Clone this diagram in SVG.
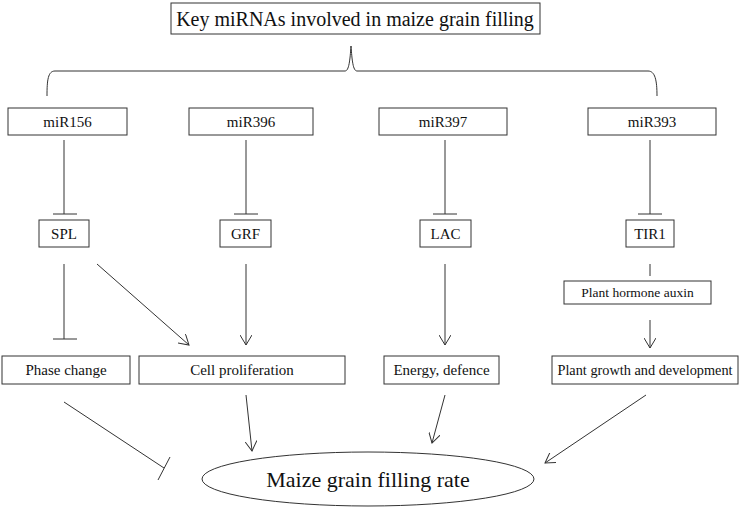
<svg xmlns="http://www.w3.org/2000/svg" width="742" height="510" viewBox="0 0 742 510">
<style>
.box{fill:#fff;stroke:#333;stroke-width:1}
.t{font-family:"Liberation Serif",serif;fill:#111;text-anchor:middle}
.c{stroke:#333;stroke-width:1;fill:none}
</style>
<defs>
<marker id="arr" markerWidth="12" markerHeight="12" refX="10" refY="6" orient="auto" markerUnits="userSpaceOnUse">
<path d="M0,0 L10,6 L0,12" fill="none" stroke="#333" stroke-width="1"/>
</marker>
</defs>
<rect width="742" height="510" fill="#fff"/>
<g id="title"><rect class="box" x="171" y="3" width="369" height="31"/><text class="t" x="355" y="26" font-size="20">Key miRNAs involved in maize grain filling</text></g>
<g id="brace"><path class="c" d="M47,96 C47,80 48,71 55,71 L345,71 C349,71 350,60 351,46 C352,60 353,71 357,71 L648,71 C655,71 657,80 657,96" stroke="#555" stroke-width="1.5"/></g>
<g id="miR156"><rect class="box" x="8" y="108" width="119" height="27"/><text class="t" x="67.5" y="127" font-size="15">miR156</text></g>
<g id="miR396"><rect class="box" x="189" y="108" width="124" height="27"/><text class="t" x="251" y="127" font-size="15">miR396</text></g>
<g id="miR397"><rect class="box" x="379" y="108" width="128" height="27"/><text class="t" x="443" y="127" font-size="15">miR397</text></g>
<g id="miR393"><rect class="box" x="588" y="108" width="128" height="27"/><text class="t" x="652" y="127" font-size="15">miR393</text></g>
<g id="SPL"><rect class="box" x="39" y="220" width="50" height="27"/><text class="t" x="64" y="239" font-size="15">SPL</text></g>
<g id="GRF"><rect class="box" x="220" y="220" width="51" height="27"/><text class="t" x="245.5" y="239" font-size="15">GRF</text></g>
<g id="LAC"><rect class="box" x="420" y="220" width="51" height="27"/><text class="t" x="445.5" y="239" font-size="15">LAC</text></g>
<g id="TIR1"><rect class="box" x="626" y="220" width="48" height="27"/><text class="t" x="650" y="239" font-size="15">TIR1</text></g>
<g id="auxin"><rect class="box" x="564" y="281" width="147" height="23"/><text class="t" x="637.5" y="297" font-size="13.5">Plant hormone auxin</text></g>
<g id="phase"><rect class="box" x="2" y="356" width="128" height="28"/><text class="t" x="66" y="375" font-size="15">Phase change</text></g>
<g id="cell"><rect class="box" x="139" y="356" width="206" height="28"/><text class="t" x="242" y="375" font-size="15">Cell proliferation</text></g>
<g id="energy"><rect class="box" x="384" y="356" width="115" height="28"/><text class="t" x="441.5" y="375" font-size="15">Energy, defence</text></g>
<g id="growth"><rect class="box" x="552" y="356" width="186" height="28"/><text class="t" x="645" y="375" font-size="14.3">Plant growth and development</text></g>
<g id="rate"><ellipse class="box" cx="368" cy="479" rx="166" ry="27"/><text class="t" x="368" y="487" font-size="22">Maize grain filling rate</text></g>
<g id="connectors" class="c">
<path d="M64,140 V214 M53,214 H77"/>
<path d="M246,140 V214 M234,214 H258"/>
<path d="M445,140 V214 M433,214 H457"/>
<path d="M650,140 V214 M638,214 H662"/>
<path d="M64,264 V339 M53,339 H77"/>
<path d="M97,264 L189,345" marker-end="url(#arr)"/>
<path d="M246,264 V345" marker-end="url(#arr)"/>
<path d="M445,264 V345" marker-end="url(#arr)"/>
<path d="M650,264 V276"/>
<path d="M650,320 V348" marker-end="url(#arr)"/>
<path d="M64,402 L164,468 M158,480 L170,457"/>
<path d="M246,395 L252,451" marker-end="url(#arr)"/>
<path d="M445,395 L432,443" marker-end="url(#arr)"/>
<path d="M646,395 L545,463" marker-end="url(#arr)"/>
</g>
</svg>
